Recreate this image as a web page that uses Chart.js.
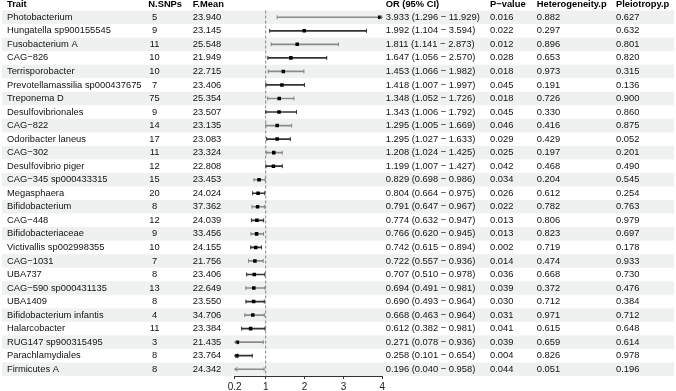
<!DOCTYPE html>
<html>
<head>
<meta charset="utf-8">
<script src="https://cdn.jsdelivr.net/npm/chart.js@4.4.1/dist/chart.umd.min.js"></script>
<style>
  html, body { margin: 0; padding: 0; background: #fff; }
  canvas { display: block; }
</style>
</head>
<body>
<canvas id="forest" width="676" height="391"></canvas>
<script>
const traits = ['Photobacterium', 'Hungatella sp900155545', 'Fusobacterium A', 'CAG\u2212826', 'Terrisporobacter',
  'Prevotellamassilia sp000437675', 'Treponema D', 'Desulfovibrionales', 'CAG\u2212822', 'Odoribacter laneus',
  'CAG\u2212302', 'Desulfovibrio piger', 'CAG\u2212345 sp000433315', 'Megasphaera', 'Bifidobacterium',
  'CAG\u2212448', 'Bifidobacteriaceae', 'Victivallis sp002998355', 'CAG\u22121031', 'UBA737',
  'CAG\u2212590 sp000431135', 'UBA1409', 'Bifidobacterium infantis', 'Halarcobacter', 'RUG147 sp900315495',
  'Parachlamydiales', 'Firmicutes A'];
const nSnps = [5, 9, 11, 10, 10, 7, 75, 9, 14, 17, 11, 12, 15, 20, 8, 12, 9, 10, 7, 8, 13, 8, 4, 11, 3, 8, 8];
const fMean = [23.940, 23.145, 25.548, 21.949, 22.715, 23.406, 25.354, 23.507, 23.135, 23.083, 23.324, 22.808, 23.453,
  24.024, 37.362, 24.039, 33.456, 24.155, 21.756, 23.406, 22.649, 23.550, 34.706, 23.384, 21.435, 23.764, 24.342];
const orValue = [3.933, 1.992, 1.811, 1.647, 1.453, 1.418, 1.348, 1.343, 1.295, 1.295, 1.208, 1.199, 0.829,
  0.804, 0.791, 0.774, 0.766, 0.742, 0.722, 0.707, 0.694, 0.690, 0.668, 0.612, 0.271, 0.258, 0.196];
const ciLower = [1.296, 1.104, 1.141, 1.056, 1.066, 1.007, 1.052, 1.006, 1.005, 1.027, 1.024, 1.007, 0.698,
  0.664, 0.647, 0.632, 0.620, 0.615, 0.557, 0.510, 0.491, 0.493, 0.463, 0.382, 0.078, 0.101, 0.040];
const ciUpper = [11.929, 3.594, 2.873, 2.570, 1.982, 1.997, 1.726, 1.792, 1.669, 1.633, 1.425, 1.427, 0.986,
  0.975, 0.967, 0.947, 0.945, 0.894, 0.936, 0.978, 0.981, 0.964, 0.964, 0.981, 0.936, 0.654, 0.958];
const pValue = [0.016, 0.022, 0.012, 0.028, 0.018, 0.045, 0.018, 0.045, 0.046, 0.029, 0.025, 0.042, 0.034,
  0.026, 0.022, 0.013, 0.013, 0.002, 0.014, 0.036, 0.039, 0.030, 0.031, 0.041, 0.039, 0.004, 0.044];
const hetP = [0.882, 0.297, 0.896, 0.653, 0.973, 0.191, 0.726, 0.330, 0.416, 0.429, 0.197, 0.468, 0.204,
  0.612, 0.782, 0.806, 0.823, 0.719, 0.474, 0.668, 0.372, 0.712, 0.971, 0.615, 0.659, 0.826, 0.051];
const pleioP = [0.627, 0.632, 0.801, 0.820, 0.315, 0.136, 0.900, 0.860, 0.875, 0.052, 0.201, 0.490, 0.545,
  0.254, 0.763, 0.979, 0.697, 0.178, 0.933, 0.730, 0.476, 0.384, 0.712, 0.648, 0.614, 0.978, 0.196];
const xTicks = [0.2, 1, 2, 3, 4];

const FONT = '"Liberation Sans", Arial, sans-serif';
const FS = 9.35;
const xMin = 0.2, xMax = 4;
const shade = '#eff1f0';
const lineCol = i => (i % 2 === 0 ? '#8a8a8a' : '#333333');

// header + text columns, drawn around the plot
const tableCols = [
  { head: 'Trait', x: 7 },
  { head: 'N.SNPs', x: 148.3, cx: 154.5, text: i => String(nSnps[i]) },
  { head: 'F.Mean', x: 192.7, text: i => fMean[i].toFixed(3) },
  { head: 'OR (95% CI)', x: 385.7, text: i => orValue[i].toFixed(3) + ' (' + ciLower[i].toFixed(3) + ' \u2212 ' + ciUpper[i].toFixed(3) + ')' },
  { head: 'P\u2212value', x: 490, text: i => pValue[i].toFixed(3) },
  { head: 'Heterogeneity.p', x: 536.7, text: i => hetP[i].toFixed(3) },
  { head: 'Pleiotropy.p', x: 616, text: i => pleioP[i].toFixed(3) }
];

const forestTable = {
  id: 'forestTable',
  beforeDraw(chart) {
    const ctx = chart.ctx;
    const y = chart.scales.y;
    const band = y.getPixelForValue(1) - y.getPixelForValue(0);
    ctx.save();
    ctx.fillStyle = '#fff';
    ctx.fillRect(0, 0, chart.width, chart.height);
    ctx.fillStyle = shade;
    traits.forEach((t, i) => {
      if (i % 2 === 0) ctx.fillRect(2, y.getPixelForValue(i) - band / 2, 672, band);
    });
    ctx.restore();
  },
  beforeDatasetsDraw(chart) {
    const ctx = chart.ctx;
    const a = chart.chartArea;
    const x1 = chart.scales.x.getPixelForValue(1);
    ctx.save();
    ctx.strokeStyle = '#666';
    ctx.lineWidth = 0.8;
    ctx.setLineDash([3, 2]);
    ctx.beginPath();
    ctx.moveTo(x1, a.top);
    ctx.lineTo(x1, a.bottom);
    ctx.stroke();
    ctx.restore();
  },
  afterDatasetsDraw(chart) {
    const ctx = chart.ctx;
    const xs = chart.scales.x, ys = chart.scales.y;
    const a = chart.chartArea;
    ctx.save();
    ctx.lineWidth = 1;
    traits.forEach((t, i) => {
      const yc = ys.getPixelForValue(i);
      ctx.strokeStyle = lineCol(i);
      ctx.beginPath();
      if (ciLower[i] >= xMin) {
        const xl = xs.getPixelForValue(ciLower[i]);
        ctx.moveTo(xl, yc - 2); ctx.lineTo(xl, yc + 2);
      } else {
        ctx.moveTo(a.left + 3, yc - 2); ctx.lineTo(a.left, yc); ctx.lineTo(a.left + 3, yc + 2);
      }
      if (ciUpper[i] <= xMax) {
        const xr = xs.getPixelForValue(ciUpper[i]);
        ctx.moveTo(xr, yc - 2); ctx.lineTo(xr, yc + 2);
      } else {
        ctx.moveTo(a.right - 3, yc - 2); ctx.lineTo(a.right, yc); ctx.lineTo(a.right - 3, yc + 2);
      }
      ctx.stroke();
    });
    ctx.restore();
  },
  afterDraw(chart) {
    const ctx = chart.ctx;
    const ys = chart.scales.y;
    ctx.save();
    ctx.textBaseline = 'middle';
    ctx.fillStyle = '#000';
    ctx.font = 'bold ' + FS + 'px ' + FONT;
    tableCols.forEach(c => {
      ctx.textAlign = 'left';
      ctx.fillText(c.head, c.x, 4.8);
    });
    ctx.font = FS + 'px ' + FONT;
    ctx.fillStyle = '#111';
    tableCols.forEach(c => {
      if (!c.text) return;
      traits.forEach((t, i) => {
        const yc = ys.getPixelForValue(i);
        if (c.cx) {
          ctx.textAlign = 'center';
          ctx.fillText(c.text(i), c.cx, yc);
        } else {
          ctx.textAlign = 'left';
          ctx.fillText(c.text(i), c.x, yc);
        }
      });
    });
    ctx.restore();
  }
};

new Chart(document.getElementById('forest'), {
  type: 'bar',
  data: {
    labels: traits,
    datasets: [
      {
        type: 'line',
        order: 1,
        data: orValue,
        showLine: false,
        pointStyle: 'rect',
        pointRadius: c => (orValue[c.dataIndex] < xMin ? 0 : 2.5),
        pointBackgroundColor: '#000',
        pointBorderColor: '#000',
        pointBorderWidth: 0,
        clip: 0
      },
      {
        type: 'bar',
        order: 2,
        data: traits.map((t, i) => [ciLower[i], ciUpper[i]]),
        backgroundColor: traits.map((t, i) => lineCol(i)),
        barThickness: 1,
        borderWidth: 0,
        clip: 0
      }
    ]
  },
  options: {
    indexAxis: 'y',
    responsive: false,
    animation: false,
    devicePixelRatio: 1,
    layout: { padding: { left: 7, right: 293.7, top: 10.5, bottom: 0 } },
    plugins: { legend: { display: false }, tooltip: { enabled: false } },
    scales: {
      x: {
        type: 'linear',
        min: xMin,
        max: xMax,
        afterBuildTicks: axis => { axis.ticks = xTicks.map(v => ({ value: v })); },
        afterFit: s => { s.height = 15; },
        grid: { drawOnChartArea: false, drawTicks: true, tickLength: 3, color: '#333' },
        border: { display: true, color: '#333', width: 1 },
        ticks: {
          callback: v => String(v),
          color: '#222',
          padding: 2,
          font: { family: FONT, size: 10 },
          maxRotation: 0
        }
      },
      y: {
        type: 'category',
        offset: true,
        afterFit: s => { s.width = 227.6; },
        grid: { display: false },
        border: { display: false },
        ticks: {
          autoSkip: false,
          crossAlign: 'far',
          color: '#111',
          font: { family: FONT, size: FS }
        }
      }
    }
  },
  plugins: [forestTable]
});
</script>
</body>
</html>
